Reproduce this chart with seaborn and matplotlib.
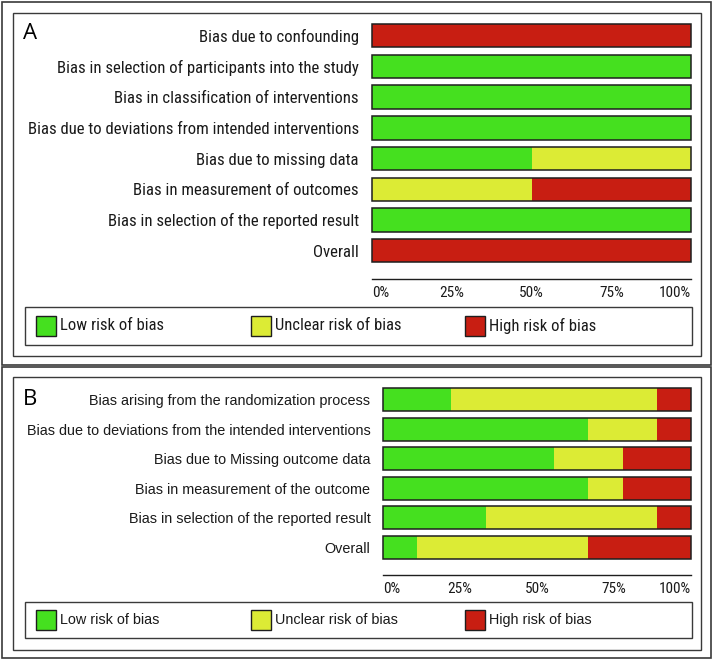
import numpy as np
import pandas as pd
import matplotlib
matplotlib.use("Agg")
import matplotlib.pyplot as plt
from matplotlib.patches import Rectangle
from matplotlib import font_manager as fm
import seaborn as sns

# ---------------- data ----------------
domains_a = [
    "Bias due to confounding",
    "Bias in selection of participants into the study",
    "Bias in classification of interventions",
    "Bias due to deviations from intended interventions",
    "Bias due to missing data",
    "Bias in measurement of outcomes",
    "Bias in selection of the reported result",
    "Overall",
]
low_a = [0, 100, 100, 100, 50, 0, 100, 0]
unclear_a = [0, 0, 0, 0, 50, 50, 0, 0]
high_a = [100, 0, 0, 0, 0, 50, 0, 100]

domains_b = [
    "Bias arising from the randomization process",
    "Bias due to deviations from the intended interventions",
    "Bias due to Missing outcome data",
    "Bias in measurement of the outcome",
    "Bias in selection of the reported result",
    "Overall",
]
low_b = [22.2, 66.7, 55.6, 66.7, 33.3, 11.1]
unclear_b = [66.7, 22.2, 22.2, 11.1, 55.6, 55.6]
high_b = [11.1, 11.1, 22.2, 22.2, 11.1, 33.3]

tick_values = [0, 25, 50, 75, 100]
tick_labels = ["0%", "25%", "50%", "75%", "100%"]
legend_labels = ["Low risk of bias", "Unclear risk of bias", "High risk of bias"]

GREEN = "#45E01F"
YELLOW = "#DCEB35"
RED = "#C81E12"
EDGE = "#1e1e1e"
TXT = "#1a1a1a"
FRAME = "#3a3a3a"

W, H = 713, 659
sns.set_style("white")
REG = "Liberation Sans"
plt.rcParams["font.family"] = [REG, "DejaVu Sans"]

names = {f.name for f in fm.fontManager.ttflist}


def find_condensed():
    pref = ["Liberation Sans Narrow", "Arial Narrow", "Roboto Condensed",
            "Open Sans Condensed", "Noto Sans Condensed", "DejaVu Sans Condensed"]
    for p in pref:
        if p in names:
            return {"fontfamily": p, "fontstretch": "normal"}
    for f in fm.fontManager.ttflist:
        st = str(f.stretch)
        if st in ("condensed", "semi-condensed") and f.style == "normal" and \
                str(f.weight) in ("400", "normal", "regular", "book"):
            return {"fontfamily": f.name, "fontstretch": st}
    return {"fontfamily": REG, "fontstretch": "normal"}


NARROW = find_condensed()
REGK = {"fontfamily": REG, "fontstretch": "normal"}

fig = plt.figure(figsize=(W / 100, H / 100), dpi=100)
fig.patch.set_facecolor("white")
renderer = fig.canvas.get_renderer()


def fit_size(text, target_px, kw, start):
    t = fig.text(0, 0, text, fontsize=start, **kw)
    w = t.get_window_extent(renderer).width
    t.remove()
    return start * target_px / w


def fx(x):
    return x / W


def fy(y):
    return 1 - y / H


def frame(x0, y0, x1, y1, lw=1.0, color=FRAME):
    fig.add_artist(Rectangle((fx(x0), fy(y1)), fx(x1) - fx(x0), fy(y0) - fy(y1),
                             transform=fig.transFigure, fill=False,
                             edgecolor=color, linewidth=lw))


def panel(ax, domains, low, unc, high, width, label_kw, label_size,
          tick_kw, tick_size, ypad, spine_out):
    df = pd.DataFrame({
        "domain": domains,
        "low": low,
        "lowunc": np.add(low, unc),
        "total": np.add(np.add(low, unc), high),
    })
    common = dict(data=df, y="domain", orient="h", width=width, ax=ax,
                  errorbar=None, saturation=1, linewidth=0)
    sns.barplot(x="total", color=RED, **common)
    sns.barplot(x="lowunc", color=YELLOW, **common)
    sns.barplot(x="low", color=GREEN, **common)
    outline = dict(common)
    outline["linewidth"] = 1.1
    sns.barplot(x="total", color=EDGE, fill=False, **outline)
    for p in ax.patches:
        p.set_clip_on(False)
    ax.set_xlim(0, 100)
    ax.set_ylim(len(domains) - 0.5, -0.5)
    ax.set_xlabel("")
    ax.set_ylabel("")
    for s in ["left", "top", "right"]:
        ax.spines[s].set_visible(False)
    ax.spines["bottom"].set_position(("outward", spine_out))
    ax.spines["bottom"].set_color(EDGE)
    ax.spines["bottom"].set_linewidth(1.0)
    ax.set_xticks(tick_values)
    ax.set_xticklabels(tick_labels, fontsize=tick_size, color=TXT, **tick_kw)
    ax.tick_params(axis="x", direction="inout", length=6.5, width=1.0, color=EDGE, pad=2)
    ax.tick_params(axis="y", length=0, pad=ypad)
    for t in ax.get_yticklabels():
        t.set_fontfamily(label_kw["fontfamily"])
        t.set_fontstretch(label_kw["fontstretch"])
        t.set_fontsize(label_size)
        t.set_color(TXT)
    xl = ax.get_xticklabels()
    xl[0].set_ha("left")
    xl[-1].set_ha("right")
    ax.set_facecolor("none")
    ax.grid(False)


def legend(y0, y1, kw, size):
    frame(25, y0, 692, y1, lw=1.0, color=FRAME)
    yc = (y0 + y1) / 2
    for xs, lab, col in zip([36, 251, 465], legend_labels, [GREEN, YELLOW, RED]):
        fig.add_artist(Rectangle((fx(xs), fy(yc + 10)), fx(20), 20 / H,
                                 transform=fig.transFigure, facecolor=col,
                                 edgecolor=EDGE, linewidth=1.0))
        fig.text(fx(xs + 24), fy(yc), lab, ha="left", va="center",
                 fontsize=size, color=TXT, **kw)


# text sizes fitted to the reference widths
size_a = min(13.3, fit_size(domains_a[3], 333, NARROW, 13.3))
size_b = min(11.0, fit_size(domains_b[1], 345, REGK, 10.5))
size_tick = min(11.0, fit_size("100%", 38, NARROW, 10.0))
size_leg_a = min(13.3, fit_size(legend_labels[0], 104, NARROW, 13.3))

# ---------------- panel A ----------------
axA = fig.add_axes([fx(372), fy(266), fx(691) - fx(372), (266 - 20.4) / H])
panel(axA, domains_a, low_a, unclear_a, high_a, 0.765, NARROW, size_a,
      NARROW, size_tick, 9.5, 9.4)

# ---------------- panel B ----------------
axB = fig.add_axes([fx(383), fy(562.3), fx(691) - fx(383), (562.3 - 384.7) / H])
panel(axB, domains_b, low_b, unclear_b, high_b, 0.777, REGK, size_b,
      NARROW, size_tick, 9.0, 9.1)

# frames
frame(1.5, 1.5, 710.5, 364.5, lw=1.2)
frame(13, 13, 701, 356, lw=1.0)
frame(1.5, 366.5, 710.5, 657.5, lw=1.2)
frame(13, 377, 701, 650, lw=1.0)

legend(307, 345, NARROW, size_leg_a)
legend(602, 638, REGK, size_b)

fig.text(fx(23), fy(39), "A", ha="left", va="baseline", fontsize=16, color="black",
         fontfamily=["Open Sans", "DejaVu Sans"])
fig.text(fx(23), fy(405), "B", ha="left", va="baseline", fontsize=16, color="black",
         fontfamily=["Open Sans", "DejaVu Sans"])

fig.savefig("out.png", dpi=100)
